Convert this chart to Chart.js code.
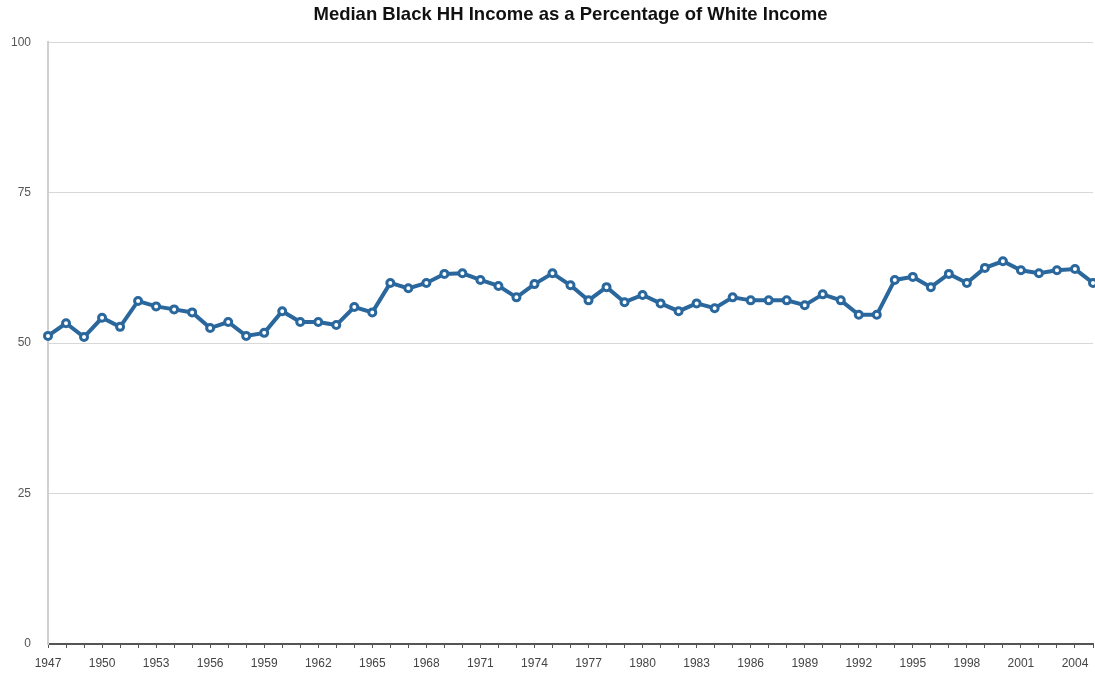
<!DOCTYPE html>
<html>
<head>
<meta charset="utf-8">
<script src="https://cdn.jsdelivr.net/npm/chart.js@4/dist/chart.umd.min.js"></script>
<style>
  html, body { margin: 0; padding: 0; background: #fff; }
  #wrap { width: 1095px; height: 675px; }
</style>
</head>
<body>
<div id="wrap"><canvas id="incomeChart"></canvas></div>
<script>
/* data */
const years = [];
for (let y = 1947; y <= 2005; y++) years.push(String(y));

const ratio = [
  51.2, 53.3, 51.0, 54.2, 52.7, 57.0, 56.1, 55.6, 55.1, 52.5,
  53.5, 51.2, 51.7, 55.3, 53.5, 53.5, 53.0, 56.0, 55.1, 60.0,
  59.1, 60.0, 61.5, 61.6, 60.5, 59.5, 57.6, 59.8, 61.6, 59.6,
  57.1, 59.3, 56.8, 58.0, 56.6, 55.3, 56.6, 55.8, 57.6, 57.1,
  57.1, 57.1, 56.3, 58.1, 57.1, 54.7, 54.7, 60.5, 61.0, 59.3,
  61.5, 60.0, 62.5, 63.6, 62.1, 61.6, 62.1, 62.3, 60.0
];

const yTicks = [0, 25, 50, 75, 100];

// center the title over the plot area instead of the whole canvas
const titleOverPlot = {
    id: 'titleOverPlot',
    afterLayout(chart) {
        chart.titleBlock.left = chart.chartArea.left;
        chart.titleBlock.right = chart.chartArea.right;
    }
};

new Chart(document.getElementById('incomeChart'), {
    type: 'line',
    data: {
        labels: years,
        datasets: [{
            label: 'Black / White median HH income (%)',
            data: ratio,
            borderColor: '#2a679d',
            borderWidth: 4,
            pointRadius: 3.5,
            pointBorderWidth: 3,
            pointBackgroundColor: '#ffffff',
            pointBorderColor: '#2a679d',
            tension: 0,
            clip: false
        }]
    },
    plugins: [titleOverPlot],
    options: {
        responsive: true,
        maintainAspectRatio: false,
        animation: false,
        layout: { autoPadding: false, padding: { left: 0, right: 2, top: 0, bottom: 0 } },
        plugins: {
            legend: { display: false },
            tooltip: { enabled: false },
            title: {
                display: true,
                text: 'Median Black HH Income as a Percentage of White Income',
                color: '#111',
                font: { family: 'Liberation Sans', size: 18.5, weight: 'bold', lineHeight: 1.2 },
                padding: { top: 4, bottom: 16 }
            }
        },
        scales: {
            x: {
                type: 'category',
                offset: false,
                afterFit: function (axis) {
                    axis.height = 31;
                    axis.paddingRight = 0;
                },
                grid: {
                    display: true,
                    drawOnChartArea: false,
                    drawTicks: true,
                    tickLength: 4,
                    color: '#555'
                },
                border: { display: true, color: '#555', width: 2 },
                ticks: {
                    autoSkip: false,
                    maxRotation: 0,
                    minRotation: 0,
                    color: '#444',
                    padding: 8,
                    font: { family: 'Liberation Sans', size: 12 },
                    callback: function (val, idx) {
                        return idx % 3 === 0 ? years[idx] : '';
                    }
                }
            },
            y: {
                min: 0,
                max: 100,
                afterFit: function (axis) { axis.width = 48; },
                afterBuildTicks: function (axis) {
                    axis.ticks = yTicks.map(v => ({ value: v }));
                },
                grid: {
                    color: '#d8d8d8',
                    lineWidth: 1,
                    drawTicks: false
                },
                border: { display: true, color: '#d0d0d0', width: 2 },
                ticks: {
                    color: '#555',
                    padding: 17,
                    font: { family: 'Liberation Sans', size: 12 }
                }
            }
        }
    }
});
</script>
</body>
</html>
